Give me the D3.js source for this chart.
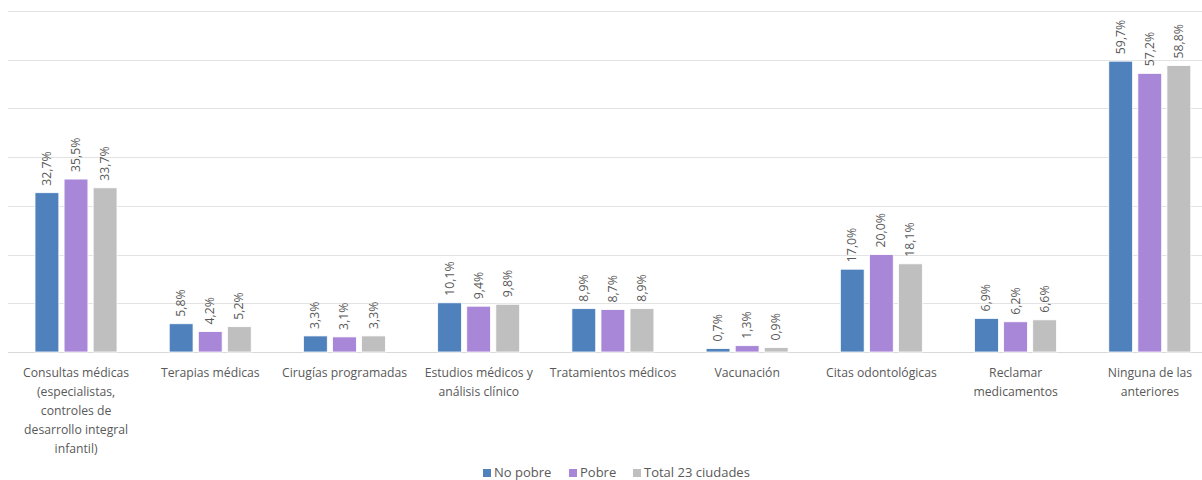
<!DOCTYPE html>
<html><head><meta charset="utf-8">
<script src="https://cdn.jsdelivr.net/npm/d3@7"></script>
<style>body{margin:0;background:#fff}svg{display:block}text{font-family:"Open Sans",sans-serif}</style>
</head><body>
<svg id="c" width="1202" height="480"></svg>
<script>
const categories = ["Consultas médicas\n(especialistas,\ncontroles de\ndesarrollo integral\ninfantil)","Terapias médicas","Cirugías programadas","Estudios médicos y\nanálisis clínico","Tratamientos médicos","Vacunación","Citas odontológicas","Reclamar\nmedicamentos","Ninguna de las\nanteriores"];
const seriesNames = ["No pobre","Pobre","Total 23 ciudades"];
const noPobre = [32.7,5.8,3.3,10.1,8.9,0.7,17.0,6.9,59.7];
const pobre = [35.5,4.2,3.1,9.4,8.7,1.3,20.0,6.2,57.2];
const total = [33.7,5.2,3.3,9.8,8.9,0.9,18.1,6.6,58.8];
const yTicks = [0,10,20,30,40,50,60,70];
const colors = ["#4f81bd","#a886d8","#bfbfbf"];
const series = [noPobre,pobre,total];

const svg = d3.select("#c");
const x = d3.scaleBand().domain(categories).range([9,1217]).paddingInner(0).paddingOuter(0);
const xs = d3.scaleBand().domain(seriesNames).range([26,108]).paddingInner(0.18).paddingOuter(0);
const y = d3.scaleLinear().domain([0,70]).range([352,11]);

svg.append("g").selectAll("line").data(yTicks).join("line")
  .attr("x1",8).attr("x2",1202).attr("y1",d=>Math.round(y(d))+0.5).attr("y2",d=>Math.round(y(d))+0.5)
  .attr("stroke",d=>d===0?"#d9d9d9":"#e3e3e3").attr("stroke-width",1);

const fmt = v => v.toFixed(1).replace(".",",")+"%";
series.forEach((vals,si)=>{
  const g = svg.append("g");
  g.selectAll("rect").data(vals).join("rect")
    .attr("x",(d,i)=>x(categories[i])+xs(seriesNames[si]))
    .attr("width",xs.bandwidth())
    .attr("y",d=>y(d)).attr("height",d=>y(0)-y(d))
    .attr("fill",colors[si]).attr("stroke","#fff").attr("stroke-width",0.8);
  g.selectAll("text").data(vals).join("text")
    .attr("transform",(d,i)=>`translate(${x(categories[i])+xs(seriesNames[si])+xs.bandwidth()/2+4},${y(d)-7}) rotate(-90)`)
    .attr("font-size",12.3).attr("fill","#595959").text(d=>fmt(d));
});

const lab = svg.append("g");
categories.forEach(c=>{
  const t = lab.append("text").attr("font-size",12.2).attr("fill","#595959").attr("text-anchor","middle");
  c.split("\n").forEach((l,i)=>t.append("tspan").attr("x",x(c)+x.bandwidth()/2).attr("y",377+i*19).text(l));
});

const leg = svg.append("g");
const legPos=[483,569,633];
seriesNames.forEach((n,i)=>{
  leg.append("rect").attr("x",legPos[i]).attr("y",469).attr("width",8).attr("height",8).attr("fill",colors[i]);
  leg.append("text").attr("x",legPos[i]+11).attr("y",477).attr("font-size",13).attr("fill","#595959").text(n);
});
</script>
</body></html>
